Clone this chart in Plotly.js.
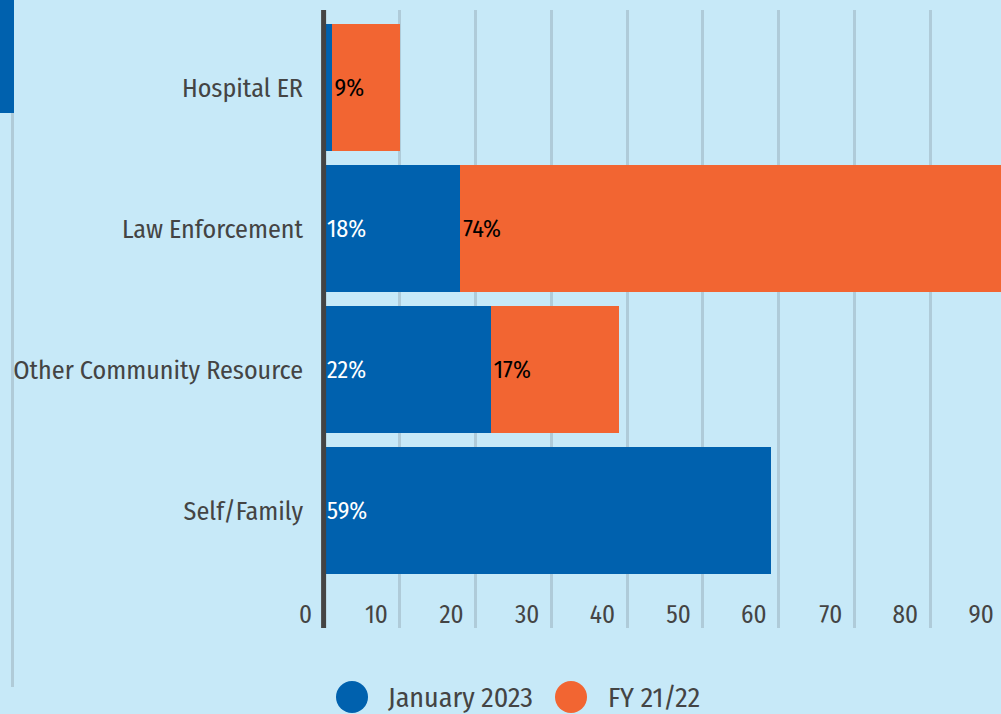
<!DOCTYPE html>
<html>
<head>
<meta charset="utf-8">
<script src="https://cdn.plot.ly/plotly-3.0.1.min.js"></script>
<style>
html, body { margin: 0; padding: 0; overflow: hidden; background: #c7e9f8; }
#chart { width: 1010px; height: 714px; }
</style>
</head>
<body>
<div id="chart"></div>
<script>
// ---- data ----
var categories = ["Hospital ER", "Law Enforcement", "Other Community Resource", "Self/Family"];
var jan2023 = [1, 18, 22, 59];
var fy2122 = [9, 74, 17, 0];
var seriesNames = ["January 2023", "FY 21/22"];
var xTickVals = [0, 10, 20, 30, 40, 50, 60, 70, 80, 90];

var BLUE = "#0061ae";
var ORANGE = "#f26532";
var BG = "#c7e9f8";
var GRID = "#afcbd9";
var TXT = "#444444";
var FONT = "'Fira Sans Condensed', 'Liberation Sans Narrow', 'DejaVu Sans Condensed', 'Roboto Condensed', 'Open Sans', sans-serif";

function pctText(arr) { return arr.map(function (v) { return v > 0 ? v + "%" : ""; }); }

var traces = [
  {
    type: "bar", orientation: "h", name: seriesNames[0],
    y: categories, x: jan2023,
    marker: { color: BLUE },
    text: pctText(jan2023), textposition: "inside", insidetextanchor: "start",
    textfont: { color: "#ffffff", size: 24, family: FONT },
    showlegend: false, hoverinfo: "x+y+name"
  },
  {
    type: "bar", orientation: "h", name: seriesNames[1],
    y: categories, x: fy2122,
    marker: { color: ORANGE },
    text: pctText(fy2122), textposition: "inside", insidetextanchor: "start",
    textfont: { color: "#000000", size: 24, family: FONT },
    showlegend: false, hoverinfo: "x+y+name"
  }
];

// plot area: left 324, top 10, bottom 628 (px); layout width 1010
var W = 1010, H = 714, L = 324, T = 10, B = 714 - 628;
var plotW = W - L, plotH = H - T - B;
function px2paperX(px) { return (px - L) / plotW; }
function px2paperY(py) { return (H - B - py) / plotH; }

var legendItems = [
  { name: seriesNames[0], color: BLUE, cx: 352, tx: 386 },
  { name: seriesNames[1], color: ORANGE, cx: 571, tx: 606 }
];
var legendY = 697, legendR = 16;

var shapes = [
  // zero line over the bars' base
  { type: "line", xref: "paper", yref: "paper", x0: px2paperX(323.6), x1: px2paperX(323.6), y0: 0, y1: 1, line: { color: "#444444", width: 5 }, layer: "above" },
  // decorative accent bar and rule at top-left
  { type: "rect", xref: "paper", yref: "paper", x0: px2paperX(0), x1: px2paperX(14), y0: px2paperY(0), y1: px2paperY(113), fillcolor: "#0061ae", line: { width: 0 }, layer: "above" },
  { type: "rect", xref: "paper", yref: "paper", x0: px2paperX(11), x1: px2paperX(14), y0: px2paperY(113), y1: px2paperY(687), fillcolor: "#b0cbd8", line: { width: 0 }, layer: "above" }
];
var annotations = [];
legendItems.forEach(function (it) {
  shapes.push({ type: "circle", xref: "paper", yref: "paper",
    x0: px2paperX(it.cx - legendR), x1: px2paperX(it.cx + legendR),
    y0: px2paperY(legendY + legendR), y1: px2paperY(legendY - legendR),
    fillcolor: it.color, line: { width: 0 } });
  annotations.push({ xref: "paper", yref: "paper", x: px2paperX(it.tx), y: px2paperY(legendY),
    xanchor: "left", yanchor: "middle", showarrow: false, text: it.name,
    font: { family: FONT, size: 28, color: TXT } });
});

var layout = {
  width: W, height: H,
  margin: { l: L, r: 0, t: T, b: B, pad: 0 },
  paper_bgcolor: BG, plot_bgcolor: BG,
  barmode: "stack", bargap: 0.1,
  font: { family: FONT, color: TXT },
  showlegend: false,
  uniformtext: { mode: "hide", minsize: 22 },
  xaxis: {
    range: [0, plotW / 75.75 * 10],
    tickvals: xTickVals, ticktext: xTickVals.map(String),
    showgrid: true, gridcolor: GRID, gridwidth: 3,
    zeroline: false, showline: false, ticks: "",
    anchor: "free", position: px2paperY(597),
    ticklabelposition: "outside left", ticklabelshift: -12,
    tickfont: { family: FONT, size: 25, color: TXT },
    fixedrange: true
  },
  yaxis: {
    type: "category",
    range: [3.833, -0.5496],
    showgrid: false, zeroline: false, showline: false,
    ticks: "", ticklabelstandoff: 20,
    tickfont: { family: FONT, size: 26, color: TXT },
    fixedrange: true
  },
  shapes: shapes,
  annotations: annotations
};

Plotly.newPlot("chart", traces, layout, { displayModeBar: false, responsive: false });
</script>
</body>
</html>
